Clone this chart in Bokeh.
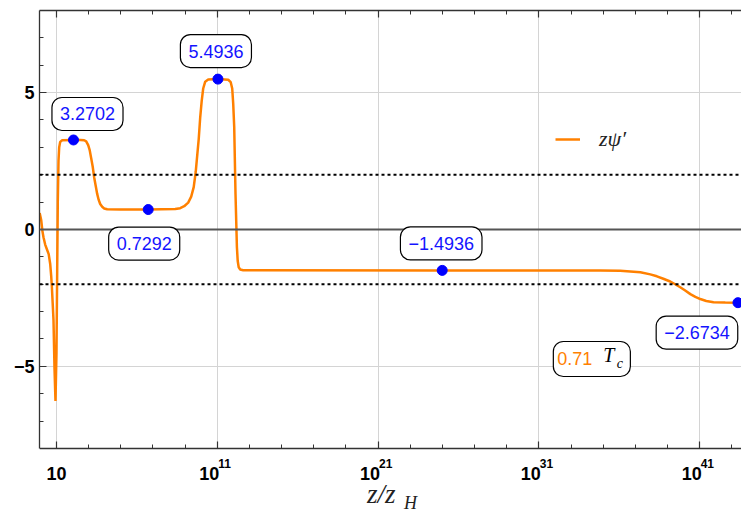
from bokeh.plotting import figure
from bokeh.models import (Range1d, LinearAxis, FixedTicker, Span, Label, Legend,
                          LegendItem, Grid, BoxAnnotation)
from bokeh.embed import file_html
from bokeh.resources import INLINE

# ---- data (x given as log10(z/z_H)) ----
log10_z = [-0.039, 0.055, 0.129, 0.198, 0.303, 0.409, 0.521, 0.614, 0.677, 0.720,
           0.770, 0.820, 0.882, 0.944, 1.006, 1.050, 1.087, 1.131, 1.174, 1.236,
           1.361, 2.063, 2.500, 2.729, 2.853, 2.978, 3.071, 3.164, 3.257, 3.351,
           3.444, 3.537, 3.631, 3.724, 3.848, 3.973, 4.159, 4.968, 6.709, 8.388,
           8.699, 8.948, 9.197, 9.383, 9.539, 9.663, 9.756, 9.850, 9.943, 10.036,
           10.129, 10.254, 10.440, 11.044, 11.684, 11.840, 11.933, 11.995, 12.057, 12.138,
           12.225, 12.275, 12.337, 12.430, 12.617, 24.99, 34.82, 36.06, 37.31, 37.93,
           38.34, 38.74, 39.17, 39.48, 39.79, 40.10, 40.42, 40.73, 41.04, 41.41,
           41.86, 42.59, 43.38]
zpsi_prime = [0.6, 0.35, -0.05, -0.28, -0.55, -0.72, -0.9, -1.25, -1.7, -2.1,
              -2.7, -3.3, -5.05, -6.26, -4.5, -1.5, 1.0, 2.5, 3.0, 3.2,
              3.26, 3.2702, 3.27, 3.26, 3.22, 3.08, 2.9, 2.6, 2.3, 1.9,
              1.6, 1.3, 1.08, 0.93, 0.83, 0.77, 0.74, 0.73, 0.7292, 0.75,
              0.78, 0.85, 0.98, 1.2, 1.55, 2.1, 2.7, 3.3, 4.1, 4.7,
              5.15, 5.4, 5.48, 5.4936, 5.47, 5.38, 5.15, 4.6, 3.75, 1.3,
              -0.65, -1.15, -1.38, -1.46, -1.49, -1.4936, -1.5, -1.51, -1.56, -1.64,
              -1.71, -1.80, -1.90, -2.0, -2.11, -2.23, -2.36, -2.46, -2.54, -2.61,
              -2.66, -2.67, -2.6734]

marker_log10z = [2.063, 6.709, 11.044, 24.99, 43.38]
marker_values = [3.2702, 0.7292, 5.4936, -1.4936, -2.6734]

x_tick_exponents = [1, 11, 21, 31, 41]
x_tick_bases = ["10", "10", "10", "10", "10"]
x_tick_powers = ["", "11", "21", "31", "41"]
x_minor = [3, 5, 7, 9, 13, 15, 17, 19, 23, 25, 27, 29, 33, 35, 37, 39, 43]
y_ticks = [-5, 0, 5]
y_tick_labels = ["\u22125", "0", "5"]
y_minor = [-7, -6, -4, -3, -2, -1, 1, 2, 3, 4, 6, 7]
guide_levels = [2, -2]
temperature_text = "0.71"

Y_LO, Y_HI = -8, 8          # visible frame range
ORANGE = "#FF8000"
FRAME = "#333333"

# frame runs to the bottom of the canvas so texts under the x axis are not clipped
p = figure(width=741, height=515, output_backend="svg", toolbar_location=None,
           x_range=Range1d(-0.05, 43.6), y_range=Range1d(-10.4475, Y_HI),
           x_axis_location=None, y_axis_location=None,
           min_border_left=39, min_border_right=0, min_border_top=10,
           min_border_bottom=0)
# drop the default grids created by figure()
p.center = [c for c in p.center if not isinstance(c, Grid)]
p.outline_line_color = None
p.background_fill_color = "white"
p.border_fill_color = "white"

xt = FixedTicker(ticks=x_tick_exponents, minor_ticks=x_minor)
yt = FixedTicker(ticks=y_ticks, minor_ticks=y_minor)
xg = FixedTicker(ticks=x_tick_exponents, minor_ticks=[])
yg = FixedTicker(ticks=y_ticks, minor_ticks=[])


def style(ax):
    ax.axis_line_color = FRAME
    ax.axis_line_width = 1.3
    ax.major_tick_in = 7
    ax.major_tick_out = 0
    ax.minor_tick_in = 4
    ax.minor_tick_out = 0
    ax.major_tick_line_color = FRAME
    ax.minor_tick_line_color = FRAME
    ax.major_tick_line_width = 1.2
    ax.minor_tick_line_width = 1
    ax.major_label_text_font = "Liberation Sans"
    ax.major_label_text_font_style = "bold"
    ax.major_label_text_font_size = "18px"
    ax.major_label_text_color = "black"


p.add_layout(Grid(dimension=0, ticker=xg, grid_line_color="#d4d4d4", grid_line_width=1,
                  minor_grid_line_color=None))
p.add_layout(Grid(dimension=1, ticker=yg, grid_line_color="#d4d4d4", grid_line_width=1,
                  minor_grid_line_color=None))
# blank out the strip under the frame (grid lines must stop at the x axis)
p.add_layout(BoxAnnotation(top=Y_LO, fill_color="white", fill_alpha=1,
                           line_alpha=0, level="underlay"))

xb = LinearAxis(ticker=xt, fixed_location=Y_LO,
                major_label_overrides={t: "" for t in x_tick_exponents})
style(xb)
xb.major_label_standoff = 0
xb.major_label_text_font_size = "1px"
xtop = LinearAxis(ticker=xt, major_label_overrides={t: "" for t in x_tick_exponents})
style(xtop)
xtop.major_label_standoff = 0
xtop.major_label_text_font_size = "1px"
yl = LinearAxis(ticker=yt, bounds=(Y_LO, Y_HI),
                major_label_overrides=dict(zip(y_ticks, y_tick_labels)))
style(yl)
yl.major_label_standoff = 5
p.add_layout(xb, "below")
p.add_layout(xtop, "above")
p.add_layout(yl, "left")

# x tick labels: 10 with a raised exponent
for t, base, pw in zip(x_tick_exponents, x_tick_bases, x_tick_powers):
    p.add_layout(Label(x=t, y=Y_LO, x_offset=(-8 if pw else 0), y_offset=-25,
                       text=base, text_align="center", text_baseline="alphabetic",
                       text_font="Liberation Sans", text_font_style="bold",
                       text_font_size="18px", text_color="black"))
    if pw:
        p.add_layout(Label(x=t, y=Y_LO, x_offset=1, y_offset=-15, text=pw,
                           text_align="left", text_baseline="alphabetic",
                           text_font="Liberation Sans", text_font_style="bold",
                           text_font_size="12px", text_color="black"))

p.add_layout(Span(location=0, dimension="width", line_color="#555555", line_width=2))
for g in guide_levels:
    p.add_layout(Span(location=g, dimension="width", line_color="black",
                      line_width=2, line_dash="3 3"))

r = p.line(log10_z, zpsi_prime, line_color=ORANGE, line_width=2.5)
p.scatter(marker_log10z, marker_values, size=10, color="#0000FF")

offsets = [(14, 26), (-4, -34), (-2, 28), (-1, 27), (-41, -30)]
for xv, yv, (dx, dy) in zip(marker_log10z, marker_values, offsets):
    txt = ("\u2212%.4f" % abs(yv)) if yv < 0 else ("%.4f" % yv)
    p.add_layout(Label(x=xv, y=yv, x_offset=dx, y_offset=dy, text=txt,
                       text_align="center", text_baseline="middle",
                       text_font="Liberation Sans", text_font_size="18px",
                       text_color="#1414FF",
                       background_fill_color="white", background_fill_alpha=1,
                       border_line_color="black", border_line_width=1.2,
                       border_radius=10, padding=(8, 8, 10, 10)))

# temperature box
p.add_layout(Label(x=31.90, y=-4.73, text=temperature_text, text_align="left",
                   text_baseline="middle", text_font="Liberation Sans",
                   text_font_size="18px", text_color=ORANGE,
                   background_fill_color="white", background_fill_alpha=1,
                   border_line_color="black", border_line_width=1.2,
                   border_radius=10, padding=(4, 38, 11, 11)))
p.add_layout(Label(x=35.0, y=-4.6, text="T", text_align="left",
                   text_baseline="middle", text_font="Liberation Serif",
                   text_font_style="italic", text_font_size="20px", text_color="black"))
p.add_layout(Label(x=35.85, y=-4.88, text="c", text_align="left",
                   text_baseline="middle", text_font="Liberation Serif",
                   text_font_style="italic", text_font_size="14px", text_color="black"))

# x axis label  z/z_H
p.add_layout(Label(x=20.31, y=-9.68, text="z/z", text_align="left",
                   text_baseline="middle", text_font="Liberation Serif",
                   text_font_style="italic", text_font_size="27px", text_color="#222222"))
p.add_layout(Label(x=22.62, y=-9.99, text="H", text_align="left",
                   text_baseline="middle", text_font="Liberation Serif",
                   text_font_style="italic", text_font_size="18px", text_color="#222222"))

legend = Legend(items=[LegendItem(label="z\u03c8\u2032", renderers=[r])],
                location=(516, 363), border_line_color=None,
                background_fill_alpha=0, padding=0, margin=0,
                glyph_width=25, glyph_height=20, label_height=20,
                label_standoff=19, label_text_font="Liberation Serif",
                label_text_font_style="italic", label_text_font_size="22px",
                label_text_color="#222222")
p.add_layout(legend)

open("out.html", "w").write(file_html(p, INLINE))
